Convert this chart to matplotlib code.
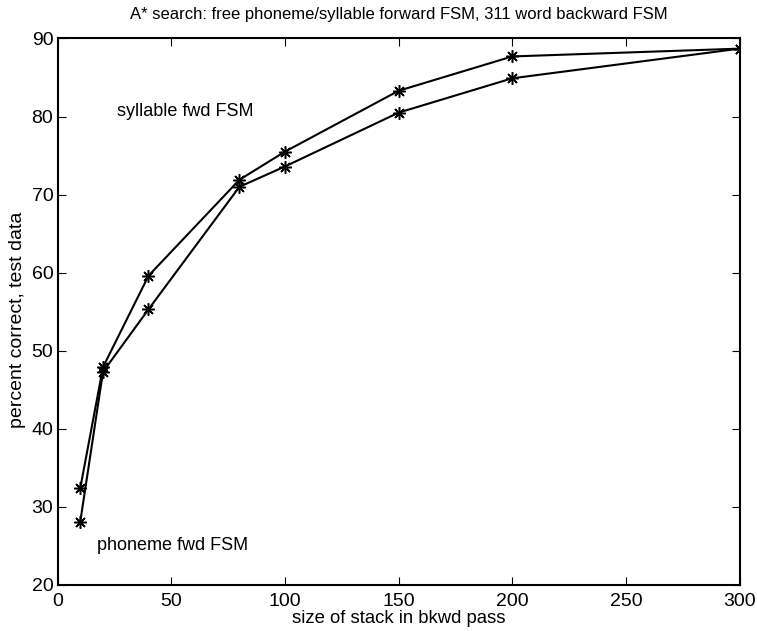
import matplotlib
matplotlib.use("Agg")
import matplotlib.pyplot as plt

# stack size vs. percent correct
stack_size = [10, 20, 40, 80, 100, 150, 200, 300]
syllable_fwd = [32.4, 47.9, 59.6, 71.9, 75.5, 83.3, 87.7, 88.7]
phoneme_fwd = [28.1, 47.3, 55.3, 71.0, 73.6, 80.5, 84.9, 88.7]

x_ticks = [0, 50, 100, 150, 200, 250, 300]
y_ticks = [20, 30, 40, 50, 60, 70, 80, 90]

plt.rcParams['font.family'] = ['Liberation Sans', 'DejaVu Sans']

fig = plt.figure(figsize=(7.57, 6.31), dpi=100)
ax = fig.add_axes([0.076, 0.073, 0.901, 0.866])

ax.plot(stack_size, syllable_fwd, color='black', lw=1.5, marker=(8, 2, 0), ms=9, mew=1.1)
ax.plot(stack_size, phoneme_fwd, color='black', lw=1.5, marker=(8, 2, 0), ms=9, mew=1.1)

ax.text(26, 80.6, 'syllable fwd FSM', fontsize=13, va='center')
ax.text(17.5, 25.1, 'phoneme fwd FSM', fontsize=13, va='center')

ax.set_xlim(0, 300)
ax.set_ylim(20, 90)
ax.set_xticks(x_ticks)
ax.set_yticks(y_ticks)
ax.tick_params(direction='in', top=True, right=True, labelsize=14, length=6)
ax.tick_params(axis='x', pad=6)
ax.tick_params(axis='y', pad=3)
for s in ax.spines.values():
    s.set_linewidth(1.5)

ax.set_title('A* search: free phoneme/syllable forward FSM, 311 word backward FSM', fontsize=12, pad=14)
ax.set_xlabel('size of stack in bkwd pass', fontsize=13.3, labelpad=0)
ax.set_ylabel('percent correct, test data', fontsize=14)
ax.yaxis.set_label_coords(-0.046, 0.485)

fig.savefig('out.png', dpi=100)
